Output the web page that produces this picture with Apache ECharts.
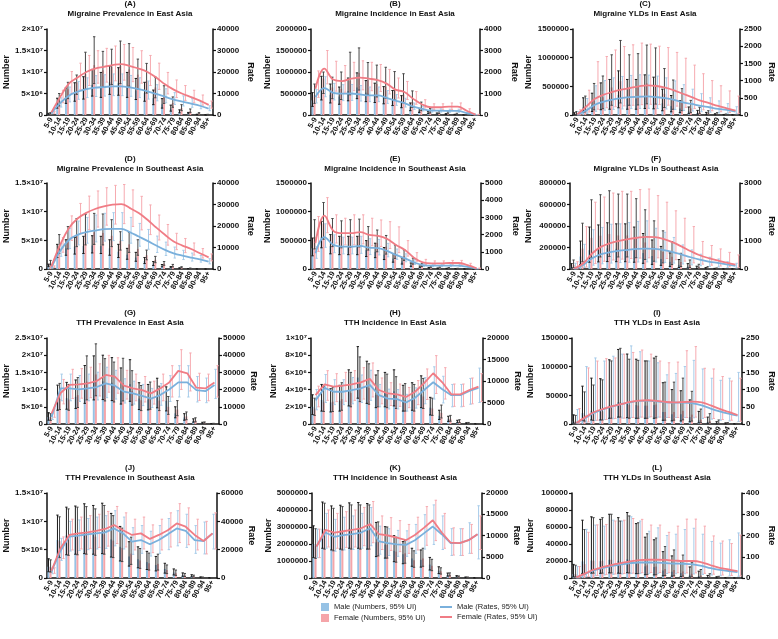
<!DOCTYPE html>
<html><head><meta charset="utf-8">
<script src="https://cdn.jsdelivr.net/npm/echarts@6/dist/echarts.min.js"></script>
<style>html,body{margin:0;padding:0;background:#fff}#c{width:778px;height:639px}</style>
</head><body><div id="c"></div>
<script>
const ages = ['5-9','10-14','15-19','20-24','25-29','30-34','35-39','40-44','45-49','50-54','55-59','60-64','65-69','70-74','75-79','80-84','85-89','90-94','95+'];

// ---- (A) Migraine Prevalence in East Asia
const A_mN   = [0.25e6,2.6e6,4.3e6,5.1e6,5.9e6,7.0e6,6.6e6,7.6e6,7.4e6,6.6e6,5.7e6,5.1e6,3.9e6,2.5e6,1.5e6,0.8e6,0.4e6,0.12e6,0.03e6];
const A_mNlo = [0.15e6,1.6e6,2.7e6,3.2e6,3.7e6,4.4e6,4.1e6,4.8e6,4.6e6,4.1e6,3.6e6,3.2e6,2.4e6,1.6e6,0.9e6,0.5e6,0.25e6,0.07e6,0.02e6];
const A_mNhi = [0.4e6,3.9e6,6.3e6,7.5e6,8.9e6,10.6e6,9.9e6,11.4e6,11.0e6,9.9e6,8.5e6,7.6e6,5.8e6,3.8e6,2.3e6,1.2e6,0.6e6,0.18e6,0.05e6];
const A_fN   = [0.35e6,3.3e6,6.0e6,7.6e6,9.6e6,11.6e6,10.4e6,11.2e6,11.5e6,10.6e6,9.4e6,8.0e6,6.4e6,4.2e6,2.8e6,1.6e6,0.9e6,0.35e6,0.1e6];
const A_fNlo = [0.2e6,2.1e6,3.8e6,4.8e6,6.0e6,7.3e6,6.6e6,7.1e6,7.3e6,6.7e6,6.0e6,5.1e6,4.0e6,2.7e6,1.8e6,1.0e6,0.55e6,0.22e6,0.06e6];
const A_fNhi = [0.55e6,5.0e6,7.6e6,9.3e6,14.6e6,18.2e6,14.8e6,15.3e6,17.2e6,16.6e6,13.0e6,12.0e6,8.8e6,6.8e6,4.2e6,2.4e6,1.4e6,0.55e6,0.16e6];
const A_mR   = [900,5500,9000,10800,12000,12700,13000,13300,13300,12800,12000,11000,9800,8500,7200,6200,5300,4300,3000];
const A_mRlo = [600,3700,6100,7300,8100,8600,8800,9000,9000,8700,8100,7400,6600,5700,4900,4200,3600,2900,2000];
const A_mRhi = [1300,8000,13000,15600,17300,18300,18700,19100,19100,18400,17300,15800,14100,12200,10400,8900,7600,6200,4300];
const A_fR   = [1200,8300,14600,17400,20000,21600,22400,23200,23700,22700,21600,20000,17400,14300,11800,9900,8300,6700,4700];
const A_fRlo = [800,5700,10000,11900,13700,14800,15300,15900,16200,15500,14800,13700,11900,9800,8100,6800,5700,4600,3200];
const A_fRhi = [1700,11500,20200,24100,27700,29900,31000,32100,32800,31400,29900,27700,24100,19800,16300,13700,11500,9300,6500];

// ---- (B) Migraine Incidence in East Asia
const B_mN   = [340000,600000,470000,430000,560000,640000,520000,480000,430000,370000,290000,180000,100000,50000,30000,20000,10000,3000,300];
const B_mNlo = [200000,350000,280000,250000,330000,380000,310000,290000,260000,220000,170000,100000,60000,30000,18000,12000,6000,1800,150];
const B_mNhi = [520000,900000,720000,650000,860000,980000,800000,740000,660000,570000,450000,280000,155000,78000,47000,31000,16000,4700,500];
const B_fN   = [460000,850000,640000,610000,800000,980000,810000,720000,660000,590000,480000,300000,170000,80000,55000,40000,20000,6000,600];
const B_fNlo = [270000,500000,380000,360000,470000,580000,480000,420000,390000,350000,280000,175000,100000,47000,32000,23000,12000,3500,350];
const B_fNhi = [720000,1000000,880000,1000000,1460000,1560000,1220000,1160000,1110000,1010000,960000,560000,300000,150000,100000,70000,40000,12000,1100];
const B_mR   = [830,1250,1030,990,1000,960,910,910,800,670,550,390,280,200,200,190,190,90,15];
const B_mRlo = [560,850,700,670,680,650,620,620,540,450,370,260,190,135,135,128,128,60,10];
const B_mRhi = [1180,1780,1470,1410,1420,1370,1300,1300,1140,950,780,555,400,285,285,270,270,130,22];
const B_fR   = [1220,2160,1650,1580,1690,1740,1690,1620,1460,1180,1070,750,490,360,360,390,390,200,20];
const B_fRlo = [820,1450,1110,1060,1130,1170,1130,1090,980,790,720,500,330,240,240,260,260,135,13];
const B_fRhi = [2050,3000,2500,2300,2450,2520,2450,2350,2120,1720,1560,1090,710,520,520,560,560,290,30];

// ---- (C) Migraine YLDs in East Asia
const C_mN   = [18000,136000,173000,255000,282000,350000,282000,282000,318000,300000,205000,155000,114000,64000,36000,20000,10000,4000,1100];
const C_mNlo = [6500,49000,62000,92000,101000,126000,101000,101000,114000,108000,74000,56000,41000,23000,13000,7200,3600,1400,400];
const C_mNhi = [40000,300000,380000,560000,620000,770000,620000,620000,700000,660000,450000,340000,250000,140000,80000,45000,22000,9000,2500];
const C_fN   = [27000,150000,250000,310000,480000,590000,480000,490000,550000,530000,370000,280000,210000,115000,61000,35000,19000,8000,2300];
const C_fNlo = [9000,55000,90000,110000,170000,210000,170000,175000,195000,190000,130000,100000,75000,41000,22000,12000,6700,2800,800];
const C_fNhi = [60000,330000,550000,680000,1050000,1300000,1050000,1070000,1220000,1170000,810000,610000,460000,255000,135000,76000,41000,18000,5000];
const C_mR   = [10,130,300,390,450,490,520,530,540,520,490,440,370,320,265,225,176,147,98];
const C_mRlo = [4,47,108,140,162,176,187,191,194,187,176,158,133,115,95,81,63,53,35];
const C_mRhi = [100,480,850,1000,1080,1120,1150,1170,1160,1130,1080,990,880,750,620,500,410,330,240];
const C_fR   = [20,245,470,590,670,735,785,833,863,843,794,716,618,520,420,343,265,196,127];
const C_fRlo = [7,88,169,212,241,265,283,300,311,303,286,258,222,187,151,123,95,71,46];
const C_fRhi = [150,720,1550,1700,1890,1990,2040,2090,2060,2000,1960,1820,1650,1450,1200,1000,850,700,550];

// ---- (D) Migraine Prevalence in Southeast Asia
const D_mN   = [0.6e6,3.0e6,3.6e6,3.9e6,4.0e6,4.1e6,4.0e6,3.6e6,3.0e6,2.5e6,2.0e6,1.4e6,0.9e6,0.55e6,0.3e6,0.15e6,0.06e6,0.02e6,0.005e6];
const D_mNlo = [0.4e6,2.0e6,2.4e6,2.6e6,2.7e6,2.8e6,2.7e6,2.4e6,2.0e6,1.7e6,1.35e6,0.95e6,0.6e6,0.37e6,0.2e6,0.1e6,0.04e6,0.014e6,0.0035e6];
const D_mNhi = [0.85e6,4.3e6,5.1e6,5.5e6,5.7e6,5.8e6,5.7e6,5.1e6,4.3e6,3.6e6,2.9e6,2.0e6,1.3e6,0.78e6,0.43e6,0.21e6,0.085e6,0.028e6,0.007e6];
const D_fN   = [1.0e6,4.0e6,5.2e6,5.8e6,6.2e6,6.4e6,6.3e6,5.8e6,4.9e6,4.3e6,3.5e6,2.4e6,1.6e6,0.95e6,0.55e6,0.28e6,0.12e6,0.04e6,0.01e6];
const D_fNlo = [0.7e6,2.7e6,3.5e6,3.9e6,4.2e6,4.3e6,4.2e6,3.9e6,3.3e6,2.9e6,2.4e6,1.6e6,1.1e6,0.65e6,0.37e6,0.19e6,0.08e6,0.027e6,0.007e6];
const D_fNhi = [1.5e6,6.0e6,7.4e6,8.8e6,9.5e6,9.7e6,9.6e6,8.6e6,6.5e6,6.4e6,5.1e6,3.3e6,2.2e6,1.3e6,0.8e6,0.4e6,0.17e6,0.06e6,0.015e6];
const D_mR   = [600,8400,13500,15900,17100,17900,18500,18700,18700,17100,15100,13100,10900,8900,7300,6200,5300,4500,3400];
const D_mRlo = [400,5900,9500,11200,12000,12600,13000,13200,13200,12000,10600,9200,7700,6300,5100,4400,3700,3200,2400];
const D_mRhi = [850,11800,18900,22300,24000,25100,25900,26200,26200,24000,21200,18400,15300,12500,10200,8700,7400,6300,4800];
const D_fR   = [1100,11200,19000,23500,26100,27900,29100,29900,30200,28300,26000,22900,19300,15900,12800,10900,9300,7300,5400];
const D_fRlo = [750,7800,13300,16400,18300,19500,20400,20900,21100,19800,18200,16000,13500,11100,9000,7600,6500,5100,3800];
const D_fRhi = [1450,14600,24700,30500,33900,36300,37800,38900,39300,36800,33800,29800,25100,20700,16600,14200,12100,9500,7000];

// ---- (E) Migraine Incidence in Southeast Asia
const E_mN   = [360000,560000,400000,380000,380000,380000,330000,300000,250000,180000,130000,70000,35000,18000,12000,8000,4000,1200,150];
const E_mNlo = [230000,370000,265000,250000,250000,250000,218000,198000,165000,119000,86000,46000,23000,12000,8000,5300,2600,800,100];
const E_mNhi = [540000,830000,600000,570000,570000,570000,495000,450000,375000,270000,195000,105000,52000,27000,18000,12000,6000,1800,230];
const E_fN   = [560000,790000,590000,560000,575000,580000,495000,455000,390000,280000,225000,127000,67000,33000,23000,17000,8700,2700,330];
const E_fNlo = [350000,520000,390000,370000,380000,385000,330000,300000,260000,185000,150000,84000,44000,22000,15000,11000,5700,1800,220];
const E_fNhi = [860000,1160000,880000,840000,860000,870000,740000,680000,585000,420000,335000,190000,100000,50000,35000,25000,13000,4000,500];
const E_mR   = [910,1850,1400,1300,1300,1340,1240,1210,1050,820,620,390,230,200,200,200,200,120,20];
const E_mRlo = [620,1260,950,880,880,910,840,820,710,560,420,265,156,136,136,136,136,82,14];
const E_mRhi = [1290,2630,1990,1850,1850,1900,1760,1720,1490,1160,880,550,330,285,285,285,285,170,28];
const E_fR   = [1500,3100,2220,2080,2080,2140,1980,1930,1750,1400,1110,660,390,330,330,350,350,230,40];
const E_fRlo = [1020,2110,1510,1410,1410,1460,1350,1310,1190,950,750,450,265,225,225,238,238,156,27];
const E_fRhi = [3050,4150,3150,2950,3150,3150,2950,2850,2750,2450,1650,950,560,470,470,500,500,330,57];

// ---- (F) Migraine YLDs in Southeast Asia
const F_mN   = [22000,116000,175000,183000,192000,188000,188000,175000,148000,121000,94000,67000,39000,22000,12000,5800,2700,800,220];
const F_mNlo = [8000,42000,63000,66000,69000,68000,68000,63000,53000,43000,34000,24000,14000,8000,4200,2100,960,290,80];
const F_mNhi = [50000,260000,390000,410000,430000,420000,420000,390000,330000,270000,210000,150000,88000,50000,26000,13000,6000,1800,500];
const F_fN   = [38000,190000,290000,310000,325000,312000,312000,293000,247000,200000,159000,114000,65000,38000,20000,10000,4500,1350,360];
const F_fNlo = [14000,68000,104000,112000,117000,112000,112000,105000,89000,72000,57000,41000,23000,13500,7100,3600,1600,480,130];
const F_fNhi = [84000,426000,644000,691000,728000,697000,697000,654000,551000,448000,355000,255000,146000,84000,44000,22000,10000,3000,800];
const F_mR   = [15,150,380,520,590,640,670,700,710,700,660,590,500,410,330,260,210,160,110];
const F_mRlo = [5,52,133,182,207,224,235,245,249,245,231,207,175,144,116,91,74,56,39];
const F_mRhi = [200,860,1370,1450,1560,1575,1620,1660,1680,1420,1280,1100,840,665,515,410,350,255,200];
const F_fR   = [20,200,550,780,900,980,1040,1090,1120,1110,1040,930,780,620,480,380,300,220,150];
const F_fRlo = [7,70,190,270,315,345,365,380,390,390,365,325,275,215,170,133,105,77,52];
const F_fRhi = [256,1480,2330,2510,2650,2710,2710,2770,2790,2560,2330,2030,1770,1480,960,820,700,580,490];

// ---- (G) TTH Prevalence in East Asia
const G_mN   = [2.0e6,7.0e6,7.5e6,7.9e6,10.5e6,12.3e6,12.4e6,12.0e6,10.1e6,11.6e6,7.4e6,7.1e6,8.2e6,6.7e6,3.1e6,1.9e6,0.93e6,0.31e6,0.09e6];
const G_mNlo = [1.1e6,4.0e6,4.3e6,4.5e6,6.0e6,7.0e6,7.1e6,6.8e6,5.8e6,6.6e6,4.2e6,4.1e6,4.7e6,3.8e6,1.8e6,1.1e6,0.53e6,0.18e6,0.05e6];
const G_mNhi = [3.3e6,11.3e6,12.1e6,12.8e6,17.0e6,19.8e6,20.0e6,19.3e6,16.3e6,18.7e6,12.0e6,11.5e6,13.3e6,10.8e6,5.0e6,3.0e6,1.5e6,0.5e6,0.15e6];
const G_fN   = [1.9e6,7.3e6,7.1e6,8.4e6,12.3e6,14.4e6,11.8e6,11.2e6,11.8e6,9.6e6,6.9e6,7.6e6,6.8e6,5.0e6,4.2e6,2.2e6,1.1e6,0.37e6,0.12e6];
const G_fNlo = [1.05e6,4.2e6,4.0e6,4.8e6,7.0e6,8.2e6,6.7e6,6.4e6,6.7e6,5.5e6,3.9e6,4.3e6,3.9e6,2.8e6,2.4e6,1.25e6,0.63e6,0.21e6,0.07e6];
const G_fNhi = [3.0e6,11.8e6,11.5e6,13.5e6,19.8e6,23.3e6,19.0e6,18.0e6,19.1e6,15.5e6,11.2e6,12.2e6,11.0e6,8.0e6,6.8e6,3.5e6,1.8e6,0.6e6,0.2e6];
const G_mR   = [4100,20700,20700,20100,20700,21500,23600,22300,18800,17800,16400,14800,16800,20100,24200,24200,19700,19100,22700];
const G_mRlo = [2600,13500,13500,13100,13500,14000,15300,14500,12200,11600,10700,9600,10900,13100,15700,15700,12800,12400,14800];
const G_mRhi = [6000,29000,29000,28200,29000,30100,33000,31200,26300,24900,23000,20700,23500,28100,33900,33900,27600,26700,31800];
const G_fR   = [6100,18000,22700,23000,23600,25000,28500,27500,22300,20700,19700,17800,20700,24200,30900,29500,21100,20700,24200];
const G_fRlo = [3900,11700,14800,15000,15300,16300,18500,17900,14500,13500,12800,11600,13500,15700,20100,19200,13700,13500,15700];
const G_fRhi = [8800,25900,31800,32200,33000,35000,39900,38500,31200,29000,27600,24900,29000,33900,43200,41300,29500,29000,33900];

// ---- (H) TTH Incidence in East Asia
const H_mN   = [2.0e6,2.8e6,2.5e6,2.7e6,3.8e6,5.4e6,4.4e6,3.4e6,3.6e6,3.8e6,2.7e6,2.9e6,3.4e6,1.9e6,0.96e6,0.54e6,0.26e6,0.09e6,0.024e6];
const H_mNlo = [1.1e6,1.5e6,1.4e6,1.5e6,2.1e6,3.0e6,2.4e6,1.9e6,2.0e6,2.1e6,1.5e6,1.6e6,1.9e6,1.05e6,0.53e6,0.3e6,0.14e6,0.05e6,0.013e6];
const H_mNhi = [3.4e6,4.6e6,4.1e6,4.5e6,6.3e6,9.0e6,7.3e6,5.7e6,6.0e6,6.3e6,4.5e6,4.8e6,5.6e6,3.1e6,1.6e6,0.9e6,0.43e6,0.15e6,0.04e6];
const H_fN   = [1.8e6,2.6e6,2.6e6,2.9e6,3.6e6,4.7e6,4.2e6,3.7e6,3.5e6,3.3e6,2.8e6,2.8e6,3.2e6,1.8e6,1.3e6,0.6e6,0.3e6,0.11e6,0.03e6];
const H_fNlo = [1.0e6,1.45e6,1.45e6,1.6e6,2.0e6,2.6e6,2.3e6,2.0e6,1.9e6,1.8e6,1.5e6,1.5e6,1.8e6,1.0e6,0.7e6,0.33e6,0.17e6,0.06e6,0.017e6];
const H_fNhi = [3.0e6,4.4e6,4.3e6,4.8e6,6.0e6,7.8e6,7.0e6,6.2e6,5.8e6,5.5e6,4.7e6,4.6e6,5.3e6,3.0e6,2.2e6,1.0e6,0.5e6,0.18e6,0.05e6];
const H_mR   = [5500,8400,7500,7500,7900,8300,9100,6700,5900,5800,5000,6100,7900,9700,8100,6700,6700,7700,8400];
const H_mRlo = [3300,5000,4500,4500,4700,5000,5500,4000,3500,3500,3000,3700,4700,5800,4900,4000,4000,4600,5000];
const H_mRhi = [8000,11500,10300,10300,10800,11400,12500,9200,8100,8000,6900,8400,10800,13300,11100,9200,9200,10600,13000];
const H_fR   = [6700,9200,8700,8900,9200,9700,10500,7900,7100,6900,6300,7500,9500,11800,9700,6900,6900,7900,8700];
const H_fRlo = [4000,5500,5200,5300,5500,5800,6300,4700,4300,4100,3800,4500,5700,7100,5800,4100,4100,4700,5200];
const H_fRhi = [8800,12400,11700,12000,12400,13100,14200,10700,9600,9300,8500,10100,12800,15900,13100,9300,9300,10700,11700];

// ---- (I) TTH YLDs in East Asia
const I_mN   = [4600,19000,23000,23000,32000,38000,35000,33000,32000,33000,21000,17000,17000,12000,6400,3500,1200,580,150];
const I_mNlo = [1400,6000,7000,7000,10000,12000,11000,10000,10000,10000,6500,5400,5200,3800,2000,1100,360,180,45];
const I_mNhi = [16000,66000,80000,79000,112000,130000,122000,113000,110000,115000,72000,60000,58000,42000,22000,12000,4000,2000,500];
const I_fN   = [4400,16000,20000,22000,32000,38000,33000,32000,32000,34000,21000,21000,23000,16500,7500,5200,2000,730,290];
const I_fNlo = [1300,5000,6100,7000,10000,12000,10000,10000,10000,10600,6600,6600,7200,5100,2300,1600,630,230,90];
const I_fNhi = [15000,56000,68000,77000,110000,132000,113000,111000,110000,118000,73000,73000,80000,57000,26000,18000,7000,2500,1000];
const I_mR   = [2,18,33,43,51,58,63,67,68,66,63,62,62,60,54,45,37,30,24];
const I_mRlo = [1,5,10,13,15,17,19,20,20,20,19,19,19,18,16,14,11,9,7];
const I_mRhi = [42,167,192,183,197,203,227,210,183,178,143,147,167,185,160,133,127,133,150];
const I_fR   = [3,20,35,44,52,58,64,68,69,67,64,63,64,65,63,54,44,35,26];
const I_fRlo = [1,6,11,13,16,17,19,20,21,20,19,19,19,20,19,16,13,11,8];
const I_fRhi = [45,163,183,190,192,203,208,215,203,183,178,180,213,225,162,160,138,125,133];

// ---- (J) TTH Prevalence in Southeast Asia
const J_mN   = [2.0e6,6.7e6,7.5e6,7.6e6,7.9e6,7.7e6,7.9e6,6.8e6,5.5e6,3.8e6,3.3e6,2.8e6,2.3e6,1.6e6,0.96e6,0.54e6,0.35e6,0.12e6,0.03e6];
const J_mNlo = [1.1e6,3.7e6,4.1e6,4.2e6,4.3e6,4.2e6,4.3e6,3.7e6,3.0e6,2.1e6,1.8e6,1.5e6,1.25e6,0.86e6,0.53e6,0.3e6,0.19e6,0.066e6,0.017e6];
const J_mNhi = [3.4e6,11.1e6,12.5e6,12.7e6,13.1e6,12.8e6,13.2e6,11.4e6,9.1e6,6.4e6,5.5e6,4.7e6,3.8e6,2.6e6,1.6e6,0.9e6,0.58e6,0.2e6,0.05e6];
const J_fN   = [1.9e6,6.5e6,7.3e6,7.5e6,7.6e6,7.3e6,7.7e6,6.6e6,5.3e6,4.3e6,3.1e6,2.6e6,2.5e6,1.4e6,0.84e6,0.48e6,0.3e6,0.11e6,0.03e6];
const J_fNlo = [1.05e6,3.6e6,4.0e6,4.1e6,4.2e6,4.0e6,4.2e6,3.6e6,2.9e6,2.4e6,1.7e6,1.4e6,1.4e6,0.77e6,0.46e6,0.26e6,0.17e6,0.06e6,0.017e6];
const J_fNhi = [3.2e6,10.8e6,12.2e6,12.5e6,12.6e6,12.2e6,12.8e6,11.0e6,8.8e6,7.2e6,5.2e6,4.4e6,4.2e6,2.3e6,1.4e6,0.8e6,0.5e6,0.18e6,0.05e6];
const J_mR   = [4700,19100,29200,29900,30800,31500,32200,35000,31500,25700,26800,23800,26800,30800,35000,33200,26800,26100,31500];
const J_mRlo = [3000,12400,19000,19400,20000,20500,20900,22700,20500,16700,17400,15500,17400,20000,22700,21600,17400,17000,20500];
const J_mRhi = [6800,28000,40000,41000,42000,43000,44000,47500,43000,35500,37000,33000,37000,42000,47500,45000,37000,39500,45000];
const J_fR   = [5100,21000,30400,31500,32200,33200,34600,37400,33700,30400,31500,27600,30400,33700,38500,36200,30400,26100,31500];
const J_fRlo = [3300,13700,19800,20500,20900,21600,22500,24300,21900,19800,20500,17900,19800,21900,25000,23500,19800,17000,20500];
const J_fRhi = [7200,29000,41500,43000,44000,45000,47000,50500,46000,41500,43000,37500,41500,46000,52500,49500,41500,40000,46000];

// ---- (K) TTH Incidence in Southeast Asia
const K_mN   = [2.0e6,2.9e6,2.75e6,2.8e6,2.9e6,2.9e6,2.85e6,2.1e6,1.95e6,1.6e6,1.4e6,1.15e6,1.07e6,0.79e6,0.43e6,0.19e6,0.09e6,0.04e6,0.013e6];
const K_mNlo = [1.2e6,1.75e6,1.65e6,1.7e6,1.75e6,1.75e6,1.7e6,1.26e6,1.17e6,0.96e6,0.84e6,0.69e6,0.64e6,0.47e6,0.26e6,0.11e6,0.054e6,0.024e6,0.008e6];
const K_mNhi = [3.07e6,4.47e6,4.24e6,4.28e6,4.42e6,4.44e6,4.38e6,3.27e6,3.02e6,2.49e6,2.14e6,1.75e6,1.65e6,1.21e6,0.66e6,0.29e6,0.14e6,0.06e6,0.02e6];
const K_fN   = [1.9e6,2.85e6,2.65e6,2.75e6,2.8e6,2.8e6,2.8e6,2.15e6,1.95e6,1.55e6,1.45e6,1.05e6,1.15e6,0.72e6,0.39e6,0.2e6,0.08e6,0.04e6,0.013e6];
const K_fNlo = [1.15e6,1.7e6,1.6e6,1.65e6,1.7e6,1.7e6,1.7e6,1.3e6,1.17e6,0.93e6,0.87e6,0.63e6,0.69e6,0.43e6,0.23e6,0.12e6,0.048e6,0.024e6,0.008e6];
const K_fNhi = [2.9e6,4.4e6,4.1e6,4.2e6,4.3e6,4.3e6,4.3e6,3.3e6,3.0e6,2.4e6,2.2e6,1.6e6,1.75e6,1.1e6,0.6e6,0.3e6,0.12e6,0.06e6,0.02e6];
const K_mR   = [7400,10700,9700,10100,10300,10700,11700,8600,8200,7900,7800,8900,10500,12100,10300,8200,8200,8900,10300];
const K_mRlo = [4800,7000,6300,6600,6700,7000,7600,5600,5300,5100,5100,5800,6800,7900,6700,5300,5300,5800,4500];
const K_mRhi = [11500,15200,13800,14300,14600,15200,16600,12200,11600,11200,11100,12600,14900,17200,14600,11600,11600,13000,17000];
const K_fR   = [7400,11300,10700,11000,11300,11700,12700,10300,10000,9500,8900,10100,11800,13600,10700,8300,8200,8900,10300];
const K_fRlo = [4800,7300,7000,7200,7300,7600,8300,6700,6500,6200,5800,6600,7700,8800,7000,5400,5300,5800,6700];
const K_fRhi = [11500,16000,15200,15600,16000,16600,18000,14600,14200,13500,12600,14300,16800,18300,15200,11800,11600,12600,14600];

// ---- (L) TTH YLDs in Southeast Asia
const L_mN   = [4600,19500,20500,19700,21400,20300,22000,18300,13700,12900,8900,7400,5700,3700,2300,860,430,140,40];
const L_mNlo = [1300,5400,5800,5500,6000,5700,6200,5100,3800,3600,2500,2100,1600,1000,640,240,120,40,12];
const L_mNhi = [16000,68000,72000,69000,75000,71000,77000,64000,48000,45000,31000,26000,20000,13000,8000,3000,1500,500,150];
const L_fN   = [4300,16300,20300,20300,21400,19100,20900,18600,14900,13400,10600,9400,7700,5100,2900,1400,570,200,60];
const L_fNlo = [1200,4600,5700,5700,6000,5400,5900,5200,4200,3800,3000,2600,2200,1400,800,400,160,56,16];
const L_fNhi = [15000,57000,71000,71000,75000,67000,73000,65000,52000,47000,37000,33000,27000,18000,10000,5000,2000,700,200];
const L_mR   = [2,20,37,48,57,64,70,73,73,72,70,68,67,64,57,46,38,33,28];
const L_mRlo = [1,6,11,14,17,19,21,22,22,22,21,20,20,19,17,14,11,10,8];
const L_mRhi = [54,229,249,244,272,268,288,268,220,236,200,206,228,234,206,172,164,180,212];
const L_fR   = [3,22,40,52,62,70,78,84,86,86,85,82,80,80,74,60,48,40,32];
const L_fRlo = [1,7,12,16,19,21,23,25,26,26,25,25,24,24,22,18,14,12,10];
const L_fRhi = [54,215,250,252,268,272,280,276,249,249,215,244,277,277,244,198,174,162,202];

const DATA = {
  A:{mN:A_mN,mNlo:A_mNlo,mNhi:A_mNhi,fN:A_fN,fNlo:A_fNlo,fNhi:A_fNhi,mR:A_mR,mRlo:A_mRlo,mRhi:A_mRhi,fR:A_fR,fRlo:A_fRlo,fRhi:A_fRhi},
  B:{mN:B_mN,mNlo:B_mNlo,mNhi:B_mNhi,fN:B_fN,fNlo:B_fNlo,fNhi:B_fNhi,mR:B_mR,mRlo:B_mRlo,mRhi:B_mRhi,fR:B_fR,fRlo:B_fRlo,fRhi:B_fRhi},
  C:{mN:C_mN,mNlo:C_mNlo,mNhi:C_mNhi,fN:C_fN,fNlo:C_fNlo,fNhi:C_fNhi,mR:C_mR,mRlo:C_mRlo,mRhi:C_mRhi,fR:C_fR,fRlo:C_fRlo,fRhi:C_fRhi},
  D:{mN:D_mN,mNlo:D_mNlo,mNhi:D_mNhi,fN:D_fN,fNlo:D_fNlo,fNhi:D_fNhi,mR:D_mR,mRlo:D_mRlo,mRhi:D_mRhi,fR:D_fR,fRlo:D_fRlo,fRhi:D_fRhi},
  E:{mN:E_mN,mNlo:E_mNlo,mNhi:E_mNhi,fN:E_fN,fNlo:E_fNlo,fNhi:E_fNhi,mR:E_mR,mRlo:E_mRlo,mRhi:E_mRhi,fR:E_fR,fRlo:E_fRlo,fRhi:E_fRhi},
  F:{mN:F_mN,mNlo:F_mNlo,mNhi:F_mNhi,fN:F_fN,fNlo:F_fNlo,fNhi:F_fNhi,mR:F_mR,mRlo:F_mRlo,mRhi:F_mRhi,fR:F_fR,fRlo:F_fRlo,fRhi:F_fRhi},
  G:{mN:G_mN,mNlo:G_mNlo,mNhi:G_mNhi,fN:G_fN,fNlo:G_fNlo,fNhi:G_fNhi,mR:G_mR,mRlo:G_mRlo,mRhi:G_mRhi,fR:G_fR,fRlo:G_fRlo,fRhi:G_fRhi},
  H:{mN:H_mN,mNlo:H_mNlo,mNhi:H_mNhi,fN:H_fN,fNlo:H_fNlo,fNhi:H_fNhi,mR:H_mR,mRlo:H_mRlo,mRhi:H_mRhi,fR:H_fR,fRlo:H_fRlo,fRhi:H_fRhi},
  I:{mN:I_mN,mNlo:I_mNlo,mNhi:I_mNhi,fN:I_fN,fNlo:I_fNlo,fNhi:I_fNhi,mR:I_mR,mRlo:I_mRlo,mRhi:I_mRhi,fR:I_fR,fRlo:I_fRlo,fRhi:I_fRhi},
  J:{mN:J_mN,mNlo:J_mNlo,mNhi:J_mNhi,fN:J_fN,fNlo:J_fNlo,fNhi:J_fNhi,mR:J_mR,mRlo:J_mRlo,mRhi:J_mRhi,fR:J_fR,fRlo:J_fRlo,fRhi:J_fRhi},
  K:{mN:K_mN,mNlo:K_mNlo,mNhi:K_mNhi,fN:K_fN,fNlo:K_fNlo,fNhi:K_fNhi,mR:K_mR,mRlo:K_mRlo,mRhi:K_mRhi,fR:K_fR,fRlo:K_fRlo,fRhi:K_fRhi},
  L:{mN:L_mN,mNlo:L_mNlo,mNhi:L_mNhi,fN:L_fN,fNlo:L_fNlo,fNhi:L_fNhi,mR:L_mR,mRlo:L_mRlo,mRhi:L_mRhi,fR:L_fR,fRlo:L_fRlo,fRhi:L_fRhi}
};

const TITLES = {
  A:'Migraine Prevalence in East Asia', B:'Migraine Incidence in East Asia', C:'Migraine YLDs in East Asia',
  D:'Migraine Prevalence in Southeast Asia', E:'Migraine Incidence in Southeast Asia', F:'Migraine YLDs in Southeast Asia',
  G:'TTH Prevalence in East Asia', H:'TTH Incidence in East Asia', I:'TTH YLDs in East Asia',
  J:'TTH Prevalence in Southeast Asia', K:'TTH Incidence in Southeast Asia', L:'TTH YLDs in Southeast Asia'
};

// layout (pixels) and axis scales
const PANELS = [
  {k:'A', l:47,  r:213, t:29,  b:115, tx:130, ty:4,   lmax:2e7,     lint:5e6,     rmax:40000, rint:10000, sci:true,  smooth:true,  ngl:27, ngr:33},
  {k:'B', l:311, r:480, t:29,  b:115, tx:395, ty:4,   lmax:2000000, lint:500000,  rmax:4000,  rint:1000,  sci:false, smooth:true,  ngl:37, ngr:30},
  {k:'C', l:573, r:740, t:29,  b:115, tx:645, ty:4,   lmax:1500000, lint:500000,  rmax:2500,  rint:500,   sci:false, smooth:true,  ngl:40, ngr:27},
  {k:'D', l:47,  r:213, t:183, b:269, tx:130, ty:159, lmax:1.5e7,   lint:5e6,     rmax:40000, rint:10000, sci:true,  smooth:true,  ngl:27, ngr:33},
  {k:'E', l:311, r:481, t:183, b:269, tx:395, ty:159, lmax:1500000, lint:500000,  rmax:5000,  rint:1000,  sci:false, smooth:true,  ngl:37, ngr:30},
  {k:'F', l:570, r:740, t:183, b:269, tx:656, ty:159, lmax:800000,  lint:200000,  rmax:3000,  rint:1000,  sci:false, smooth:true,  ngl:37, ngr:27},
  {k:'G', l:47,  r:219, t:338, b:424, tx:130, ty:313, lmax:2.5e7,   lint:5e6,     rmax:50000, rint:10000, sci:true,  smooth:false, ngl:27, ngr:27},
  {k:'H', l:311, r:483, t:338, b:424, tx:395, ty:313, lmax:1e7,     lint:2e6,     rmax:20000, rint:5000,  sci:true,  smooth:false, ngl:33, ngr:28},
  {k:'I', l:572, r:742, t:338, b:424, tx:657, ty:313, lmax:150000,  lint:50000,   rmax:250,   rint:50,    sci:false, smooth:true,  ngl:37, ngr:25},
  {k:'J', l:47,  r:217, t:493, b:578, tx:130, ty:468, lmax:1.5e7,   lint:5e6,     rmax:60000, rint:20000, sci:true,  smooth:false, ngl:27, ngr:29},
  {k:'K', l:312, r:482, t:493, b:578, tx:395, ty:468, lmax:5000000, lint:1000000, rmax:20000, rint:5000,  sci:false, smooth:false, ngl:37, ngr:28},
  {k:'L', l:572, r:742, t:493, b:578, tx:657, ty:468, lmax:100000,  lint:20000,   rmax:400,   rint:100,   sci:false, smooth:true,  ngl:37, ngr:25}
];

const FONT = '"Liberation Sans", Arial, Helvetica, sans-serif';
const COL = {mBar:'#96c2e5', fBar:'#f5a5a9', mErr:'#1a1a1a', fErr:'#474747', mLine:'#7ab0dc', fLine:'#f07c85', mRErr:'#a6cbe9', fRErr:'#f6aab0'};
const NAMES = {mN:'Male (Numbers, 95% UI)', fN:'Female (Numbers, 95% UI)', mR:'Male (Rates, 95% UI)', fR:'Female (Rates, 95% UI)'};
const SUP = {'0':'⁰','1':'¹','2':'²','3':'³','4':'⁴','5':'⁵','6':'⁶','7':'⁷','8':'⁸','9':'⁹'};

function sciFmt(v){
  if (v === 0) return '0';
  const e = Math.floor(Math.log10(v) + 1e-9);
  const m = Math.round(v / Math.pow(10, e) * 10) / 10;
  return m + '×10' + String(e).split('').map(c => SUP[c]).join('');
}
function plainFmt(v){ return String(v); }

function barItem(off, color){
  return function(params, api){
    const i = api.value(0);
    const base = api.coord([i, 0]);
    const top = api.coord([i, api.value(1)]);
    const bw = api.size([1, 0])[0];
    const w = Math.max(1.6, bw * 0.22);
    const x = base[0] + off * bw - w / 2;
    return {type:'rect', shape:{x:x, y:top[1], width:w, height:base[1]-top[1]}, style:{fill:color}};
  };
}
function errItem(off, color, lw){
  return function(params, api){
    const i = api.value(0);
    const p1 = api.coord([i, api.value(1)]);
    const p2 = api.coord([i, api.value(2)]);
    const bw = api.size([1, 0])[0];
    const x = p1[0] + off * bw;
    const cap = Math.max(1.2, bw * 0.13);
    const st = {stroke:color, lineWidth:lw};
    return {type:'group', children:[
      {type:'line', shape:{x1:x, y1:p1[1], x2:x, y2:p2[1]}, style:st},
      {type:'line', shape:{x1:x-cap, y1:p2[1], x2:x+cap, y2:p2[1]}, style:st},
      {type:'line', shape:{x1:x-cap, y1:p1[1], x2:x+cap, y2:p1[1]}, style:st}
    ]};
  };
}

const grid = [], xAxis = [], yAxis = [], series = [], graphic = [];
const axisLineStyle = {color:'#111', width:1.5};
const lblStyle = {fontSize:8, fontWeight:'bold', color:'#111', fontFamily:FONT};

PANELS.forEach(function(p, idx){
  const d = DATA[p.k];
  grid.push({left:p.l, top:p.t, width:p.r - p.l, height:p.b - p.t});
  xAxis.push({type:'category', gridIndex:idx, data:ages, boundaryGap:true,
    axisLine:{lineStyle:axisLineStyle}, axisTick:{alignWithLabel:true, length:3, lineStyle:{color:'#111', width:1}},
    axisLabel:{rotate:60, interval:0, fontSize:7.5, fontWeight:'bold', color:'#111', margin:3, fontFamily:FONT}});
  yAxis.push({type:'value', gridIndex:idx, position:'left', min:0, max:p.lmax, interval:p.lint,
    name:'Number', nameLocation:'middle', nameRotate:90, nameGap:p.ngl,
    nameTextStyle:{fontSize:9, fontWeight:'bold', color:'#111', fontFamily:FONT},
    axisLine:{show:true, lineStyle:axisLineStyle}, axisTick:{show:true, length:3, lineStyle:{color:'#111', width:1.2}},
    splitLine:{show:false},
    axisLabel:Object.assign({margin:4, formatter: p.sci ? sciFmt : plainFmt}, lblStyle)});
  yAxis.push({type:'value', gridIndex:idx, position:'right', min:0, max:p.rmax, interval:p.rint,
    name:'Rate', nameLocation:'middle', nameRotate:-90, nameGap:p.ngr,
    nameTextStyle:{fontSize:9, fontWeight:'bold', color:'#111', fontFamily:FONT},
    axisLine:{show:true, lineStyle:axisLineStyle}, axisTick:{show:true, length:3, lineStyle:{color:'#111', width:1.2}},
    splitLine:{show:false},
    axisLabel:Object.assign({margin:4, formatter: plainFmt}, lblStyle)});

  const yl = idx * 2, yr = idx * 2 + 1;
  const pairs = (a) => ages.map((_, i) => [i, a[i]]);
  const tri = (lo, hi) => ages.map((_, i) => [i, lo[i], hi[i]]);

  series.push({type:'custom', name:NAMES.mN, xAxisIndex:idx, yAxisIndex:yl, z:2, itemStyle:{color:COL.mBar},
    renderItem:barItem(-0.33, COL.mBar), encode:{x:0, y:1}, data:pairs(d.mN), silent:true});
  series.push({type:'custom', name:NAMES.fN, xAxisIndex:idx, yAxisIndex:yl, z:2, itemStyle:{color:COL.fBar},
    renderItem:barItem(-0.1, COL.fBar), encode:{x:0, y:1}, data:pairs(d.fN), silent:true});
  series.push({type:'custom', name:NAMES.mN, xAxisIndex:idx, yAxisIndex:yl, z:3, itemStyle:{color:COL.mBar},
    renderItem:errItem(-0.33, COL.mErr, 1), encode:{x:0, y:[1,2]}, data:tri(d.mNlo, d.mNhi), silent:true});
  series.push({type:'custom', name:NAMES.fN, xAxisIndex:idx, yAxisIndex:yl, z:3, itemStyle:{color:COL.fBar},
    renderItem:errItem(-0.1, COL.fErr, 1), encode:{x:0, y:[1,2]}, data:tri(d.fNlo, d.fNhi), silent:true});
  series.push({type:'line', name:NAMES.mR, xAxisIndex:idx, yAxisIndex:yr, z:5, data:d.mR, symbol:'none',
    smooth:p.smooth ? 0.4 : false, lineStyle:{color:COL.mLine, width:1.8}, itemStyle:{color:COL.mLine}, silent:true});
  series.push({type:'line', name:NAMES.fR, xAxisIndex:idx, yAxisIndex:yr, z:5, data:d.fR, symbol:'none',
    smooth:p.smooth ? 0.4 : false, lineStyle:{color:COL.fLine, width:1.8}, itemStyle:{color:COL.fLine}, silent:true});
  series.push({type:'custom', name:NAMES.mR, xAxisIndex:idx, yAxisIndex:yr, z:3, itemStyle:{color:COL.mLine},
    renderItem:errItem(0.12, COL.mRErr, 1), encode:{x:0, y:[1,2]}, data:tri(d.mRlo, d.mRhi), silent:true});
  series.push({type:'custom', name:NAMES.fR, xAxisIndex:idx, yAxisIndex:yr, z:3, itemStyle:{color:COL.fLine},
    renderItem:errItem(0.34, COL.fRErr, 1), encode:{x:0, y:[1,2]}, data:tri(d.fRlo, d.fRhi), silent:true});

  graphic.push({type:'text', x:p.tx, y:p.ty, style:{text:'(' + p.k + ')', x:0, y:0, align:'center', verticalAlign:'middle',
    font:'bold 8px ' + FONT, fill:'#111'}});
  graphic.push({type:'text', x:p.tx, y:p.ty + 10, style:{text:TITLES[p.k], x:0, y:0, align:'center', verticalAlign:'middle',
    font:'bold 8px ' + FONT, fill:'#111'}});
});

const chart = echarts.init(document.getElementById('c'), null, {renderer:'canvas'});
chart.setOption({
  animation:false,
  backgroundColor:'#fff',
  textStyle:{fontFamily:FONT},
  grid:grid, xAxis:xAxis, yAxis:yAxis, series:series, graphic:graphic,
  legend:[
    {data:[{name:NAMES.mN, icon:'rect'}, {name:NAMES.fN, icon:'rect'}], orient:'vertical', left:316, top:598,
     itemWidth:8, itemHeight:8, itemGap:3, textStyle:{fontSize:7.5, color:'#222', fontFamily:FONT}, selectedMode:false},
    {data:[{name:NAMES.mR, icon:'rect'}, {name:NAMES.fR, icon:'rect'}], orient:'vertical', left:435, top:598,
     itemWidth:12, itemHeight:2, itemGap:2, textStyle:{fontSize:7.5, color:'#222', fontFamily:FONT}, selectedMode:false}
  ]
});
</script></body></html>
